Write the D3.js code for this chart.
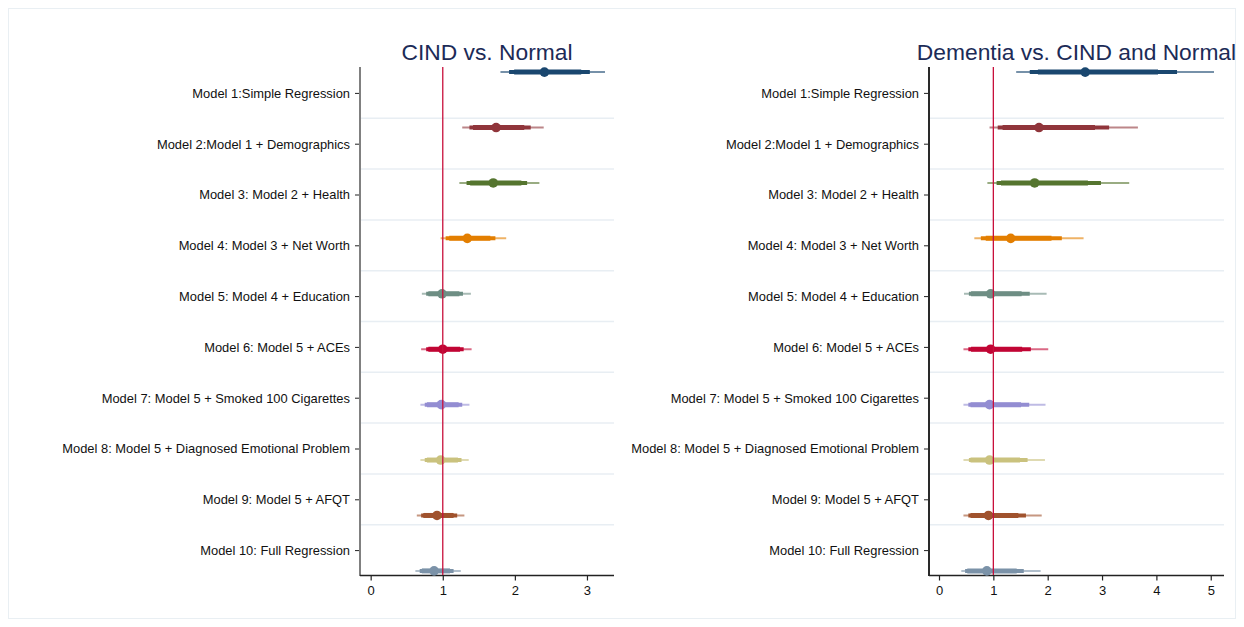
<!DOCTYPE html>
<html><head><meta charset="utf-8">
<script src="https://cdn.jsdelivr.net/npm/d3@7/dist/d3.min.js"></script>
<style>body{margin:0;background:#fff}svg{display:block;font-family:"Liberation Sans",Arial,sans-serif}</style>
</head><body><svg id="c" width="1244" height="627"></svg>
<script>
const models = ["Model 1:Simple Regression","Model 2:Model 1 + Demographics","Model 3: Model 2 + Health","Model 4: Model 3 + Net Worth","Model 5: Model 4 + Education","Model 6: Model 5 + ACEs","Model 7: Model 5 + Smoked 100 Cigarettes","Model 8: Model 5 + Diagnosed Emotional Problem","Model 9: Model 5 + AFQT","Model 10: Full Regression"];
const colors = ["#1a476f","#90353b","#55752f","#e37e00","#6e8e84","#c10534","#938dd2","#cac27e","#a0522d","#7b92a8"];
const panelTitles = ["CIND vs. Normal","Dementia vs. CIND and Normal"];
const cindTicks = [0,1,2,3];
const demTicks = [0,1,2,3,4,5];

// CIND vs. Normal
const cindEst  = [2.41,1.74,1.70,1.34,0.99,1.00,0.98,0.97,0.92,0.88];
const cindLo99 = [1.80,1.27,1.23,0.97,0.71,0.70,0.69,0.69,0.64,0.62];
const cindHi99 = [3.25,2.40,2.34,1.88,1.39,1.40,1.37,1.36,1.30,1.25];
const cindLo95 = [1.92,1.37,1.33,1.04,0.77,0.77,0.75,0.75,0.70,0.68];
const cindHi95 = [3.04,2.22,2.17,1.73,1.28,1.29,1.27,1.26,1.20,1.15];
const cindLo90 = [1.99,1.42,1.38,1.09,0.80,0.80,0.78,0.78,0.73,0.71];
const cindHi90 = [2.92,2.13,2.09,1.66,1.23,1.24,1.22,1.21,1.15,1.10];

// Dementia vs. CIND and Normal
const demEst  = [2.69,1.84,1.76,1.32,0.95,0.95,0.93,0.93,0.91,0.88];
const demLo99 = [1.42,0.93,0.89,0.65,0.46,0.45,0.45,0.45,0.45,0.41];
const demHi99 = [5.06,3.66,3.50,2.66,1.98,2.01,1.96,1.95,1.89,1.87];
const demLo95 = [1.67,1.08,1.06,0.77,0.55,0.54,0.54,0.55,0.54,0.48];
const demHi95 = [4.38,3.13,2.98,2.26,1.67,1.69,1.66,1.63,1.60,1.56];
const demLo90 = [1.82,1.17,1.14,0.86,0.59,0.59,0.58,0.58,0.58,0.52];
const demHi90 = [4.03,2.87,2.74,2.07,1.52,1.53,1.51,1.49,1.46,1.43];

const svg = d3.select("#c");
svg.append("rect").attr("x",8.5).attr("y",8.5).attr("width",1227).attr("height",610)
  .attr("fill","none").attr("stroke","#e9eff3").attr("stroke-width",1);

const panels = [
  {x0:360,x1:614,dom:[-0.148,3.375],ticks:cindTicks,title:panelTitles[0],axisCol:"#808080",
   est:cindEst,l99:cindLo99,h99:cindHi99,l95:cindLo95,h95:cindHi95,l90:cindLo90,h90:cindHi90},
  {x0:929,x1:1224,dom:[-0.184,5.244],ticks:demTicks,title:panelTitles[1],axisCol:"#2a2a2a",
   est:demEst,l99:demLo99,h99:demHi99,l95:demLo95,h95:demHi95,l90:demLo90,h90:demHi90}
];

const y = d3.scaleLinear().domain([0.5,10.5]).range([67.5,575.5]);
const idx = d3.range(1,11);
const ptPos = i => i + (i-5.5)/11;

panels.forEach(p=>{
  const x = d3.scaleLinear().domain(p.dom).range([p.x0,p.x1]);
  const g = svg.append("g");
  g.selectAll("line.grid").data(d3.range(1.5,10,1)).join("line")
    .attr("x1",p.x0).attr("x2",p.x1).attr("y1",d=>y(d)).attr("y2",d=>y(d))
    .attr("stroke","#e8eef3").attr("stroke-width",1.5);
  g.append("text").attr("x",(p.x0+p.x1)/2).attr("y",60).attr("text-anchor","middle")
    .attr("font-size",22.8).attr("fill","#1c2b57").text(p.title);
  const ya = d3.axisLeft(y).tickValues(idx).tickFormat(d=>models[d-1]).tickSize(5).tickPadding(5);
  const yg = g.append("g").attr("transform",`translate(${p.x0},0)`).call(ya);
  yg.select(".domain").remove();
  yg.selectAll("text").attr("font-size",12.9).attr("fill","#111").attr("dy","0.34em");
  yg.selectAll(".tick line").attr("stroke","#222");
  g.append("line").attr("x1",p.x0).attr("x2",p.x0).attr("y1",67).attr("y2",576)
    .attr("stroke",p.axisCol).attr("stroke-width",2);
  const xa = d3.axisBottom(x).tickValues(p.ticks).tickFormat(d3.format("d")).tickSize(5).tickPadding(5);
  const xg = g.append("g").attr("transform",`translate(0,575.5)`).call(xa);
  xg.select(".domain").remove();
  xg.selectAll("text").attr("font-size",13).attr("fill","#111");
  xg.selectAll(".tick line").attr("stroke","#222").attr("stroke-width",1.2);
  g.append("line").attr("x1",p.x0).attr("x2",p.x1).attr("y1",575.5).attr("y2",575.5)
    .attr("stroke","#222").attr("stroke-width",1.5);
  const levels = [["l99","h99",2,0.6],["l95","h95",4,1],["l90","h90",5,1]];
  levels.forEach(([lo,hi,w,op])=>{
    g.selectAll(null).data(idx).join("line")
      .attr("x1",i=>x(p[lo][i-1])).attr("x2",i=>x(p[hi][i-1]))
      .attr("y1",i=>y(ptPos(i))).attr("y2",i=>y(ptPos(i)))
      .attr("stroke",i=>colors[i-1]).attr("stroke-width",w).attr("stroke-opacity",op);
  });
  g.selectAll(null).data(idx).join("circle")
    .attr("cx",i=>x(p.est[i-1])).attr("cy",i=>y(ptPos(i))).attr("r",4.8)
    .attr("fill",i=>colors[i-1]);
  g.append("line").attr("x1",x(1)).attr("x2",x(1)).attr("y1",67).attr("y2",575)
    .attr("stroke","#c8103c").attr("stroke-width",1.3);
});
</script></body></html>
